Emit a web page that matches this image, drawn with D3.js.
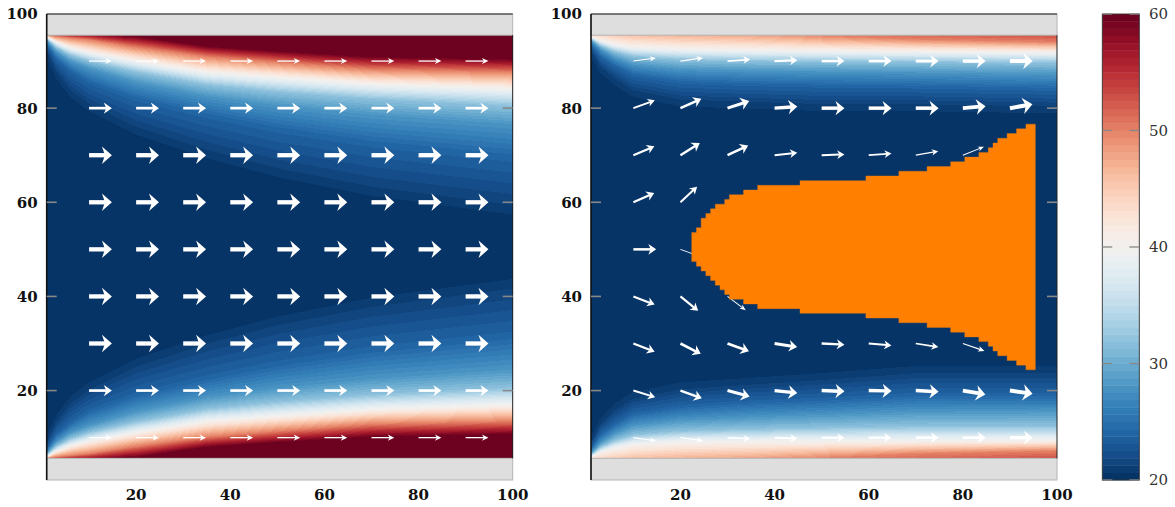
<!DOCTYPE html>
<html><head><meta charset="utf-8">
<script src="https://cdn.jsdelivr.net/npm/d3@7"></script>
<style>body{margin:0;background:#fff}</style>
</head><body><svg id="chart" width="1175" height="507"></svg>
<script>
// ================= DATA =================
const xTickVals = [20, 40, 60, 80, 100];
const yTickVals = [20, 40, 60, 80, 100];
const cbTickVals = [20, 30, 40, 50, 60];
const tempDomain = [20, 60];
const nLevels = 64;
const channel = [5.6, 95.5];            // wall positions (y)

// stations along x where isotherm depths (distance from wall) were read
const stationX = [1, 3, 6, 10, 20, 35, 50, 70, 100];
const isoLevels = [60, 50, 40, 32, 28, 24, 21];

// left panel: wall temperature and isotherm depths (same for both walls)
const leftWallT = [50, 54, 56, 57.5, 61, 66, 68, 70, 72];
const leftDepth = [
  [0, 0, 0, 0, 0.15, 2.3, 3.3, 4.5, 5.0],
  [0, 0.3, 0.6, 1.0, 2.6, 4.6, 5.8, 7.3, 7.9],
  [0.3, 1.5, 2.7, 3.7, 5.5, 7.9, 9.0, 10.4, 11.4],
  [0.8, 2.6, 4.2, 5.5, 7.8, 10.5, 12, 13.5, 15],
  [1.2, 3.5, 5.5, 7, 10, 13, 15, 17, 19],
  [2, 5, 7.5, 10, 13.5, 17, 20, 23, 26],
  [3.5, 8, 12, 15, 20, 25, 29, 33, 37]
];
// right panel, top wall
const rightTopWallT = [44, 44, 45, 46, 47, 48, 50, 51.5, 53];
const rightTopDepth = [
  [0, 0, 0, 0, 0, 0, 0, 0, 0],
  [0, 0, 0, 0, 0, 0, 0.1, 0.9, 1.5],
  [0.3, 1.2, 2.0, 2.6, 3.0, 3.2, 3.4, 3.5, 3.7],
  [0.8, 2.2, 3.5, 4.5, 5.2, 5.5, 5.6, 5.7, 5.8],
  [1.2, 3.0, 4.8, 6.3, 7.3, 7.6, 7.8, 8.0, 8.4],
  [2, 4.5, 6.5, 8.5, 10, 10.5, 10.8, 11, 11.5],
  [3.5, 7, 9.5, 12, 14, 14.5, 15, 15, 15.5]
];
// right panel, bottom wall
const rightBotWallT = [44, 44, 45, 46, 47, 48, 50, 51.5, 53];
const rightBotDepth = [
  [0, 0, 0, 0, 0, 0, 0, 0, 0],
  [0, 0, 0, 0, 0, 0, 0.1, 1.0, 1.6],
  [0.3, 1.3, 2.2, 3.0, 3.5, 3.6, 3.6, 3.7, 3.8],
  [0.8, 2.4, 3.8, 5.0, 5.8, 6.2, 6.5, 6.8, 6.8],
  [1.2, 3.3, 5.3, 7.0, 8.2, 8.8, 9.3, 10, 10.2],
  [2, 5, 7.2, 9.5, 11, 12, 12.5, 13.5, 13.5],
  [3.5, 7.5, 10.5, 13, 15, 16, 17, 18.5, 18.5]
];
// distance beyond the last isotherm where the fluid reaches inlet temperature
const tailDepth = 3;

// obstacle (right panel): column start x, top y, bottom y; last column ends at obsEnd
const obsStart = [22.4, 23.4, 24.4, 25.4, 26.4, 27.4, 28.4, 29.4, 30.4, 33.4, 36.4, 45.4, 59.4, 66.4, 72.4, 77.4, 80.4, 83.4, 85.4, 86.4, 87.4, 89.4, 91.4, 93.4];
const obsTop   = [53.6, 54.6, 56.6, 57.6, 58.6, 59.6, 59.6, 60.6, 61.6, 62.6, 63.6, 64.6, 65.6, 66.6, 67.6, 68.6, 69.6, 70.6, 71.6, 72.6, 73.6, 74.6, 75.6, 76.6];
const obsBot   = [47.4, 46.4, 45.4, 44.4, 43.4, 42.4, 41.4, 40.4, 39.4, 38.4, 37.4, 36.4, 35.4, 34.4, 33.4, 32.4, 31.4, 30.4, 29.4, 28.4, 27.4, 26.4, 25.4, 24.4];
const obsEnd = 95.4;

// quiver grid
const gridX = [10, 20, 30, 40, 50, 60, 70, 80, 90];
const gridY = [90, 80, 70, 60, 50, 40, 30, 20, 10];
// left panel: speed per row (uniform along x), flow horizontal
const leftRowSpeed = [0.3, 0.62, 1, 1, 1, 1, 1, 0.62, 0.3];
// right panel: direction (deg) and speed per arrow (rows y=90..10, cols x=10..90)
const rightAngle = [
  [8, 8, 4, 2, 0, 0, 0, 0, 0],
  [20, 24, 18, 4, 0, 0, 0, 5, 10],
  [23, 32, 25, 6, 2, 4, 10, 22, null],
  [24, 43, null, null, null, null, null, null, null],
  [0, -20, null, null, null, null, null, null, null],
  [-21, -39, -37, null, null, null, null, null, null],
  [-21, -27, -20, -9, -3, -5, -9, -19, null],
  [-17, -20, -15, -6, -2, -1, -3, -10, -8],
  [-8, -8, -3, -2, 0, 0, 0, 0, 0]
];
const rightSpeed = [
  [0.25, 0.28, 0.4, 0.5, 0.58, 0.63, 0.7, 0.8, 0.93],
  [0.42, 0.58, 0.7, 0.8, 0.8, 0.8, 0.82, 0.88, 0.95],
  [0.5, 0.58, 0.58, 0.46, 0.46, 0.4, 0.3, 0.22, null],
  [0.53, 0.46, null, null, null, null, null, null, null],
  [0.58, 0.2, null, null, null, null, null, null, null],
  [0.5, 0.5, 0.22, null, null, null, null, null, null],
  [0.53, 0.6, 0.65, 0.65, 0.53, 0.46, 0.4, 0.28, null],
  [0.46, 0.58, 0.7, 0.77, 0.8, 0.8, 0.8, 0.88, 0.93],
  [0.25, 0.28, 0.35, 0.42, 0.46, 0.5, 0.58, 0.65, 0.77]
];

// ================= DRAWING =================
const svg = d3.select("#chart");
const plotTop = 14, plotBottom = 480;
const y = d3.scaleLinear().domain([1, 100]).range([plotBottom, plotTop]);
const panels = [
  {x: d3.scaleLinear().domain([1, 100]).range([46.7, 512.7]), kind: "left"},
  {x: d3.scaleLinear().domain([1, 100]).range([591, 1057]), kind: "right"}
];
const cbY = d3.scaleLinear().domain(tempDomain).range([plotBottom, plotTop]);
const cbX0 = 1102.3, cbX1 = 1139.3;

function levelColor(k) { return d3.interpolateRdBu(1 - (k + 0.5) / nLevels); }
function tempToLevel(T) {
  const k = Math.floor((T - tempDomain[0]) / (tempDomain[1] - tempDomain[0]) * nLevels);
  return Math.max(0, Math.min(nLevels - 1, k));
}
const interpAt = (arr, x) => {
  if (x <= stationX[0]) return arr[0];
  for (let i = 1; i < stationX.length; i++) {
    if (x <= stationX[i]) {
      const t = (x - stationX[i - 1]) / (stationX[i] - stationX[i - 1]);
      return arr[i - 1] + t * (arr[i] - arr[i - 1]);
    }
  }
  return arr[arr.length - 1];
};
function profilePts(wallT, depth, x) {
  const Tw = interpAt(wallT, x);
  const pts = [[0, Tw]];
  let prev = 0;
  isoLevels.forEach((lvl, i) => {
    if (lvl >= Tw) return;
    let dd = interpAt(depth[i], x);
    if (dd <= prev) dd = prev + 0.02;
    pts.push([dd, lvl]); prev = dd;
  });
  pts.push([prev + tailDepth, 20]);
  return pts;
}
function evalProfile(pts, d) {
  if (d <= 0) return pts[0][1];
  for (let i = 1; i < pts.length; i++) {
    if (d <= pts[i][0]) {
      const t = (d - pts[i - 1][0]) / (pts[i][0] - pts[i - 1][0]);
      return pts[i - 1][1] + t * (pts[i][1] - pts[i - 1][1]);
    }
  }
  return 20;
}
const lvlRGB = d3.range(nLevels).map(k => d3.rgb(levelColor(k)));

panels.forEach(p => {
  const xs = p.x;
  const g = svg.append("g");
  const px0 = Math.round(xs.range()[0]), px1 = Math.round(xs.range()[1]);
  const py0 = Math.round(y(channel[1])), py1 = Math.round(y(channel[0]));
  const w = px1 - px0, h = py1 - py0;
  const canvas = document.createElement("canvas");
  canvas.width = w; canvas.height = h;
  const ctx = canvas.getContext("2d");
  const img = ctx.createImageData(w, h);
  const topSet = p.kind === "left" ? [leftWallT, leftDepth] : [rightTopWallT, rightTopDepth];
  const botSet = p.kind === "left" ? [leftWallT, leftDepth] : [rightBotWallT, rightBotDepth];
  for (let i = 0; i < w; i++) {
    const xv = xs.invert(px0 + i + 0.5);
    const pt = profilePts(topSet[0], topSet[1], xv);
    const pb = profilePts(botSet[0], botSet[1], xv);
    for (let j = 0; j < h; j++) {
      const yv = y.invert(py0 + j + 0.5);
      const T = 20 + (evalProfile(pt, channel[1] - yv) - 20) + (evalProfile(pb, yv - channel[0]) - 20);
      const c = lvlRGB[tempToLevel(T)];
      const o = (j * w + i) * 4;
      img.data[o] = c.r; img.data[o + 1] = c.g; img.data[o + 2] = c.b; img.data[o + 3] = 255;
    }
  }
  ctx.putImageData(img, 0, 0);
  g.append("image").attr("x", px0).attr("y", py0).attr("width", w).attr("height", h)
    .attr("preserveAspectRatio", "none").attr("href", canvas.toDataURL());

  // arrows
  const arrowLen = 4.85;
  const ag = g.append("g").attr("fill", "#fff");
  gridY.forEach((gy, r) => gridX.forEach((gx, c) => {
    let ang, sp;
    if (p.kind === "left") { ang = 0; sp = leftRowSpeed[r]; }
    else { ang = rightAngle[r][c]; sp = rightSpeed[r][c]; }
    if (ang === null || sp === null) return;
    const a = ang * Math.PI / 180;
    const x0 = xs(gx), y0 = y(gy);
    const x1 = xs(gx + arrowLen * Math.cos(a)), y1 = y(gy + arrowLen * Math.sin(a));
    const len = Math.hypot(x1 - x0, y1 - y0);
    const lw = Math.max(0.9, 4.3 * sp);
    const L = 1.15 * lw + 5, hw = 1.9 * lw + 0.6, notch = 0.3 * L;
    const rot = Math.atan2(y1 - y0, x1 - x0) * 180 / Math.PI;
    const ga = ag.append("g").attr("transform", `translate(${x0},${y0}) rotate(${rot})`);
    ga.append("rect").attr("x", 0).attr("y", -lw / 2).attr("width", len - L + notch + 0.5).attr("height", lw);
    ga.append("path").attr("d", `M${len},0 L${len - L},${-hw} L${len - L + notch},0 L${len - L},${hw} Z`);
  }));

  // obstacle
  if (p.kind === "right") {
    const pts = [];
    obsStart.forEach((s, i) => {
      const e = i < obsStart.length - 1 ? obsStart[i + 1] : obsEnd;
      pts.push([s, obsTop[i]], [e, obsTop[i]]);
    });
    for (let i = obsStart.length - 1; i >= 0; i--) {
      const s = obsStart[i], e = i < obsStart.length - 1 ? obsStart[i + 1] : obsEnd;
      pts.push([e, obsBot[i]], [s, obsBot[i]]);
    }
    g.append("path").attr("d", d3.line().x(d => xs(d[0])).y(d => y(d[1]))(pts) + "Z")
      .attr("fill", "#ff8000").attr("stroke", "#e07a1a").attr("stroke-width", 0.4);
  }

  // wall bands
  g.append("rect").attr("x", xs(1)).attr("y", y(100)).attr("width", xs(100) - xs(1)).attr("height", y(channel[1]) - y(100))
    .attr("fill", "#dedede").attr("stroke", "#b4b4b4").attr("stroke-width", 1);
  g.append("rect").attr("x", xs(1)).attr("y", y(channel[0])).attr("width", xs(100) - xs(1)).attr("height", y(1) - y(channel[0]))
    .attr("fill", "#dedede").attr("stroke", "#b4b4b4").attr("stroke-width", 1);
  // frame
  g.append("line").attr("x1", xs(1)).attr("x2", xs(100)).attr("y1", y(100)).attr("y2", y(100)).attr("stroke", "#222").attr("stroke-width", 1.2);
  g.append("line").attr("x1", xs(1)).attr("x2", xs(1)).attr("y1", y(100)).attr("y2", y(1)).attr("stroke", "#111").attr("stroke-width", 1.6);
  g.append("line").attr("x1", xs(100)).attr("x2", xs(100)).attr("y1", y(channel[1])).attr("y2", y(channel[0])).attr("stroke", "#222").attr("stroke-width", 1);

  // y ticks (inner, both sides)
  yTickVals.filter(v => v < 100).forEach(v => {
    g.append("line").attr("x1", xs(1)).attr("x2", xs(1) + 10).attr("y1", y(v)).attr("y2", y(v)).attr("stroke", "#888").attr("stroke-width", 1.6);
    g.append("line").attr("x1", xs(100) - 10).attr("x2", xs(100)).attr("y1", y(v)).attr("y2", y(v)).attr("stroke", "#888").attr("stroke-width", 1.6);
  });
  // tick labels
  g.selectAll("text.yl").data(yTickVals).join("text").attr("class", "yl")
    .attr("x", xs(1) - 9).attr("y", d => y(d)).attr("dy", "0.36em").attr("text-anchor", "end")
    .attr("font-family", "DejaVu Serif").attr("font-weight", "bold").attr("font-size", 15).attr("fill", "#111")
    .text(d => d);
  g.selectAll("text.xl").data(xTickVals).join("text").attr("class", "xl")
    .attr("x", d => xs(d)).attr("y", 500).attr("text-anchor", "middle")
    .attr("font-family", "DejaVu Serif").attr("font-weight", "bold").attr("font-size", 15).attr("fill", "#111")
    .text(d => d);
});

// colorbar
const cb = svg.append("g");
const lvStep = (tempDomain[1] - tempDomain[0]) / nLevels;
cb.selectAll("rect.lv").data(d3.range(nLevels)).join("rect").attr("class", "lv")
  .attr("x", cbX0).attr("width", cbX1 - cbX0)
  .attr("y", k => cbY(tempDomain[0] + (k + 1) * lvStep))
  .attr("height", k => cbY(tempDomain[0] + k * lvStep) - cbY(tempDomain[0] + (k + 1) * lvStep) + 0.4)
  .attr("fill", k => levelColor(k));
cb.append("rect").attr("x", cbX0).attr("y", plotTop).attr("width", cbX1 - cbX0).attr("height", plotBottom - plotTop)
  .attr("fill", "none").attr("stroke", "#333").attr("stroke-width", 0.9);
cbTickVals.forEach(v => {
  cb.append("line").attr("x1", cbX0).attr("x2", cbX0 + 10).attr("y1", cbY(v)).attr("y2", cbY(v)).attr("stroke", "#888").attr("stroke-width", 1.3);
  cb.append("line").attr("x1", cbX1 - 10).attr("x2", cbX1).attr("y1", cbY(v)).attr("y2", cbY(v)).attr("stroke", "#888").attr("stroke-width", 1.3);
});
cb.selectAll("text").data(cbTickVals).join("text")
  .attr("x", 1149).attr("y", d => cbY(d)).attr("dy", "0.36em")
  .attr("font-family", "DejaVu Serif").attr("font-size", 15).attr("fill", "#333").text(d => d);
</script></body></html>
